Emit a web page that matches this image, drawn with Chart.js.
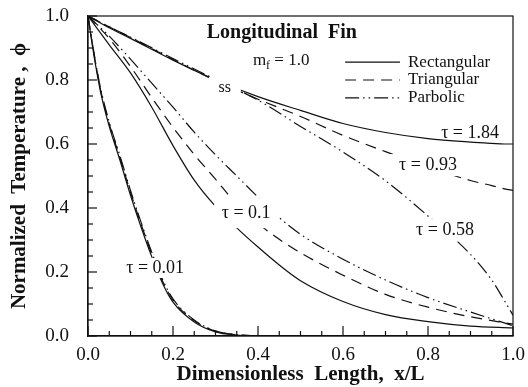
<!DOCTYPE html>
<html>
<head>
    <meta charset="UTF-8">
    <title>Longitudinal Fin</title>
    <script src="https://cdn.jsdelivr.net/npm/chart.js@4.4.1/dist/chart.umd.min.js"></script>
    <style>
        body { margin: 0; background: #fff; }
    </style>
</head>
<body>
    <canvas id="myChart" width="528" height="387"></canvas>

    <script>
        // steady state (ss) curves
        const xSS = [0, 0.05, 0.1, 0.2, 0.3, 0.4, 0.5, 0.6, 0.7, 0.8, 0.9, 0.95, 0.98, 1.0];
        const rectSS = [1, 0.963, 0.93, 0.862, 0.80, 0.748, 0.705, 0.664, 0.636, 0.617, 0.606, 0.602, 0.600, 0.600];
        const triSS = [1, 0.966, 0.933, 0.864, 0.798, 0.740, 0.686, 0.627, 0.576, 0.528, 0.486, 0.470, 0.460, 0.455];
        const parSS = [1, 0.966, 0.934, 0.867, 0.802, 0.737, 0.655, 0.575, 0.485, 0.375, 0.255, 0.175, 0.11, 0.065];

        // tau = 0.1
        const xT1 = [0, 0.05, 0.1, 0.15, 0.2, 0.25, 0.3, 0.35, 0.4, 0.45, 0.5, 0.6, 0.7, 0.8, 0.9, 1.0];
        const rectT1 = [1, 0.91, 0.822, 0.715, 0.595, 0.487, 0.405, 0.338, 0.278, 0.222, 0.173, 0.108, 0.067, 0.045, 0.031, 0.025];
        const triT1 = [1, 0.93, 0.842, 0.745, 0.652, 0.567, 0.49, 0.412, 0.352, 0.302, 0.26, 0.19, 0.13, 0.09, 0.06, 0.037];
        const parT1 = [1, 0.937, 0.865, 0.79, 0.715, 0.637, 0.566, 0.50, 0.434, 0.37, 0.318, 0.24, 0.175, 0.12, 0.075, 0.032];

        // tau = 0.01
        const xT01 = [0, 0.01, 0.02, 0.03, 0.05, 0.075, 0.1, 0.125, 0.15, 0.175, 0.2, 0.25, 0.3, 0.35, 0.4];
        const rectT01 = [1, 0.91, 0.83, 0.76, 0.655, 0.55, 0.44, 0.34, 0.248, 0.166, 0.106, 0.044, 0.013, 0.003, 0];
        const triT01 = [1, 0.915, 0.836, 0.767, 0.663, 0.558, 0.449, 0.349, 0.256, 0.173, 0.112, 0.048, 0.015, 0.004, 0];
        const parT01 = [1, 0.918, 0.84, 0.772, 0.668, 0.564, 0.455, 0.355, 0.262, 0.178, 0.116, 0.05, 0.016, 0.004, 0];

        const legendLabels = ['Rectangular', 'Triangular', 'Parbolic'];

        const SERIF = "'Liberation Serif', 'Times New Roman', serif";
        const INK = '#111';
        const dashes = [[], [11, 7], [14, 4, 1.5, 4, 1.5, 4]];

        function pts(xs, ys) {
            return xs.map((x, i) => ({ x: x, y: ys[i] }));
        }
        function curve(xs, ys, kind) {
            return {
                data: pts(xs, ys),
                borderColor: INK,
                borderWidth: 1.2,
                borderDash: dashes[kind],
                pointRadius: 0,
                fill: false,
                cubicInterpolationMode: 'monotone'
            };
        }

        // text notes, positions in data units
        const notes = [
            { text: 'ss', x: 0.322, y: 0.775, size: 16, box: [16, 11] },
            { text: 'τ = 1.84', x: 0.899, y: 0.634, size: 18 },
            { text: 'τ = 0.93', x: 0.80, y: 0.534, size: 18, box: [38, 11] },
            { text: 'τ = 0.58', x: 0.84, y: 0.331, size: 18, box: [34, 11] },
            { text: 'τ = 0.1', x: 0.372, y: 0.384, size: 18, box: [32, 15] },
            { text: 'τ = 0.01', x: 0.158, y: 0.2125, size: 18, box: [32, 10] }
        ];

        const frame = {
            id: 'frame',
            afterDraw(chart) {
                const { ctx, chartArea: a, scales: { x, y } } = chart;
                ctx.save();
                ctx.strokeStyle = INK;
                ctx.lineWidth = 1.2;
                ctx.strokeRect(a.left, a.top, a.right - a.left, a.bottom - a.top);
                for (let i = 0; i <= 20; i++) {
                    const v = i * 0.05;
                    const major = i % 4 === 0;
                    const px = x.getPixelForValue(v);
                    ctx.beginPath();
                    ctx.moveTo(px, a.bottom);
                    ctx.lineTo(px, a.bottom - (major ? 10 : 5));
                    ctx.stroke();
                    const py = y.getPixelForValue(v);
                    ctx.beginPath();
                    ctx.moveTo(a.left, py);
                    ctx.lineTo(a.left + (major ? 9 : 5), py);
                    ctx.stroke();
                }
                ctx.restore();
            }
        };

        const labels = {
            id: 'labels',
            afterDatasetsDraw(chart) {
                const { ctx, scales: { x, y } } = chart;
                ctx.save();
                ctx.textAlign = 'center';
                ctx.textBaseline = 'middle';
                notes.forEach(n => {
                    const px = x.getPixelForValue(n.x);
                    const py = y.getPixelForValue(n.y);
                    if (n.box) {
                        ctx.fillStyle = '#fff';
                        ctx.fillRect(px - n.box[0], py - n.box[1], n.box[0] * 2, n.box[1] * 2);
                    }
                    ctx.fillStyle = INK;
                    ctx.font = n.size + 'px ' + SERIF;
                    ctx.fillText(n.text, px, py);
                });

                // title
                ctx.font = 'bold 20px ' + SERIF;
                ctx.fillText('Longitudinal  Fin', x.getPixelForValue(0.456), y.getPixelForValue(0.947));

                // m_f = 1.0
                ctx.textAlign = 'left';
                let mx = x.getPixelForValue(0.388);
                const my = y.getPixelForValue(0.862);
                ctx.font = '17px ' + SERIF;
                ctx.fillText('m', mx, my);
                mx += ctx.measureText('m').width;
                ctx.font = '12px ' + SERIF;
                ctx.fillText('f', mx, my + 6);
                mx += ctx.measureText('f').width;
                ctx.font = '17px ' + SERIF;
                ctx.fillText(' = 1.0', mx, my);

                // legend
                const rows = [0.856, 0.80, 0.744];
                ctx.lineWidth = 1.2;
                ctx.strokeStyle = INK;
                legendLabels.forEach((t, i) => {
                    const ly = y.getPixelForValue(rows[i]);
                    ctx.setLineDash(dashes[i]);
                    ctx.beginPath();
                    ctx.moveTo(x.getPixelForValue(0.605), ly);
                    ctx.lineTo(x.getPixelForValue(0.734), ly);
                    ctx.stroke();
                    ctx.setLineDash([]);
                    ctx.font = '17px ' + SERIF;
                    ctx.fillText(t, x.getPixelForValue(0.753), ly);
                });
                ctx.restore();
            }
        };

        const ctx = document.getElementById('myChart').getContext('2d');
        const chart = new Chart(ctx, {
            type: 'line',
            data: {
                datasets: [
                    curve(xSS, rectSS, 0),
                    curve(xSS, triSS, 1),
                    curve(xSS, parSS, 2),
                    curve(xT1, rectT1, 0),
                    curve(xT1, triT1, 1),
                    curve(xT1, parT1, 2),
                    curve(xT01, rectT01, 0),
                    curve(xT01, triT01, 1),
                    curve(xT01, parT01, 2)
                ]
            },
            options: {
                responsive: false,
                animation: false,
                layout: { padding: { top: 16, right: 15, left: 0, bottom: 0 } },
                plugins: {
                    legend: { display: false },
                    tooltip: { enabled: false }
                },
                scales: {
                    x: {
                        type: 'linear',
                        min: 0,
                        max: 1,
                        afterFit: s => {
                            s.height = 51;
                            s.paddingLeft = 0;
                            s.paddingRight = 0;
                        },
                        ticks: {
                            stepSize: 0.2,
                            callback: v => v.toFixed(1),
                            font: { family: SERIF, size: 19 },
                            color: INK,
                            padding: 8,
                            maxRotation: 0
                        },
                        grid: { drawOnChartArea: false, drawTicks: false, tickLength: 0 },
                        border: { color: INK, width: 1.2 },
                        title: {
                            display: true,
                            text: 'Dimensionless  Length,  x/L',
                            font: { family: SERIF, size: 21, weight: 'bold' },
                            color: INK,
                            padding: { top: 0, bottom: 0 }
                        }
                    },
                    y: {
                        min: 0,
                        max: 1,
                        afterFit: s => {
                            s.width = 88;
                            s.paddingTop = 0;
                            s.paddingBottom = 0;
                        },
                        ticks: {
                            stepSize: 0.2,
                            callback: v => v.toFixed(1),
                            font: { family: SERIF, size: 19 },
                            color: INK,
                            padding: 19
                        },
                        grid: { drawOnChartArea: false, drawTicks: false, tickLength: 0 },
                        border: { color: INK, width: 1.2 },
                        title: {
                            display: true,
                            text: 'Normalized  Temperature ,  ϕ',
                            font: { family: SERIF, size: 21, weight: 'bold' },
                            color: INK,
                            padding: { top: 7, bottom: 0 }
                        }
                    }
                }
            },
            plugins: [frame, labels]
        });
    </script>
</body>
</html>
